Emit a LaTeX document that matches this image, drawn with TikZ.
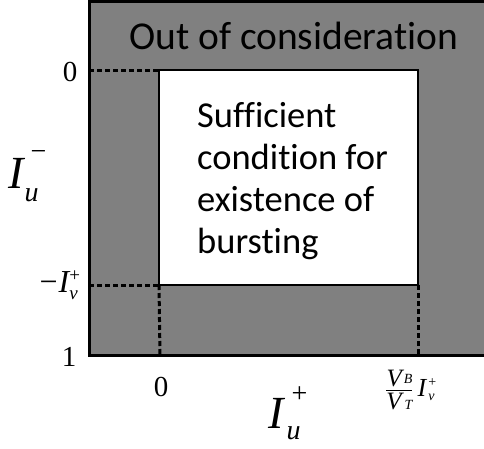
\documentclass[tikz,border=0pt]{standalone}
\usepackage{amsmath}
\usepackage{fontspec}
\setmainfont{Carlito}[Ligatures=NoCommon]
\newfontfamily\tms{Liberation Serif}
\newcommand{\tsz}[1]{\tms\fontsize{#1}{#1}\selectfont}
\definecolor{gry}{RGB}{128,128,128}
\tikzset{
  frame/.style={draw=black,line width=3pt},
  guide/.style={draw=black,line width=3pt,dash pattern=on 5pt off 3pt},
  lbl/.style={inner sep=0pt,text=black},
}
\begin{document}
\begin{tikzpicture}[x=1pt,y=-1pt]
\useasboundingbox (0,0) rectangle (484,448);
% regions
\fill[gry] (89,1) rectangle (490,355);
\draw[frame] (490,1) -- (89,1) -- (89,355) -- (490,355);
\fill[white] (159,70) rectangle (418,285);
\draw[black,line width=2.5pt] (159,70) rectangle (418,285);
% corner coordinates
\coordinate (yz) at (89,70);
\coordinate (yv) at (89,285);
\coordinate (rtl) at (159,70);
\coordinate (rbl) at (159,285);
\coordinate (rbr) at (418,285);
\coordinate (xz) at (160,355);
\coordinate (xv) at (418,355);
\draw[guide] (yz) -- (rtl);
\draw[guide] (yv) -- (rbl);
\draw[guide] (rbl) -- (xz);
\draw[guide] (rbr) -- (xv);
% texts
\node[lbl,anchor=base west,font=\fontsize{39.5}{40}\selectfont] (out) at (129,49) {Out of consideration};
\node[lbl,anchor=north west,align=left,font=\fontsize{36.5}{42}\selectfont] (suff) at (197,102)
  {Sufficient\\condition for\\existence of\\bursting};
% axis tick labels
\node[lbl,anchor=base,font=\tsz{29}] (y0) at (70,81) {0};
\node[lbl,anchor=base,font=\tsz{29}] (y1) at (69,366) {1};
\node[lbl,anchor=base east,font=\tsz{32}] (yv1) at (81,292)
  {−\kern1pt{\itshape I}\rlap{\raisebox{11pt}{\tsz{19}+}}\raisebox{-7pt}{\tsz{19}\itshape v}\kern3pt};
\node[lbl,anchor=base,font=\tsz{29}] (x0) at (161,396) {0};
\node[lbl,anchor=west,font=\tsz{26}] (xv1) at (385,390)
  {$\genfrac{}{}{1.4pt}{}{\hbox{\tsz{25}\itshape V\kern2pt\raisebox{3pt}{\tsz{14}\itshape B}}}{\hbox{\tsz{25}\itshape V\kern3pt\raisebox{0pt}{\tsz{14}\itshape T}}}$\kern4pt{\itshape I}\kern2pt\rlap{\raisebox{10pt}{\tsz{14}+}}\raisebox{-4pt}{\tsz{14}\itshape v}};
% axis titles
\node[lbl,anchor=base west,font=\tsz{46}] (ylab) at (8,188)
  {{\itshape I}\kern7pt\rlap{\raisebox{28pt}{\tsz{28}−}}\kern-6pt\raisebox{-13pt}{\tsz{28}\itshape u}};
\node[lbl,anchor=base west,font=\tsz{46}] (xlab) at (268,428)
  {{\itshape I}\kern8pt\rlap{\raisebox{26pt}{\tsz{28}+}}\kern-5pt\raisebox{-11pt}{\tsz{28}\itshape u}};
\end{tikzpicture}
\end{document}
